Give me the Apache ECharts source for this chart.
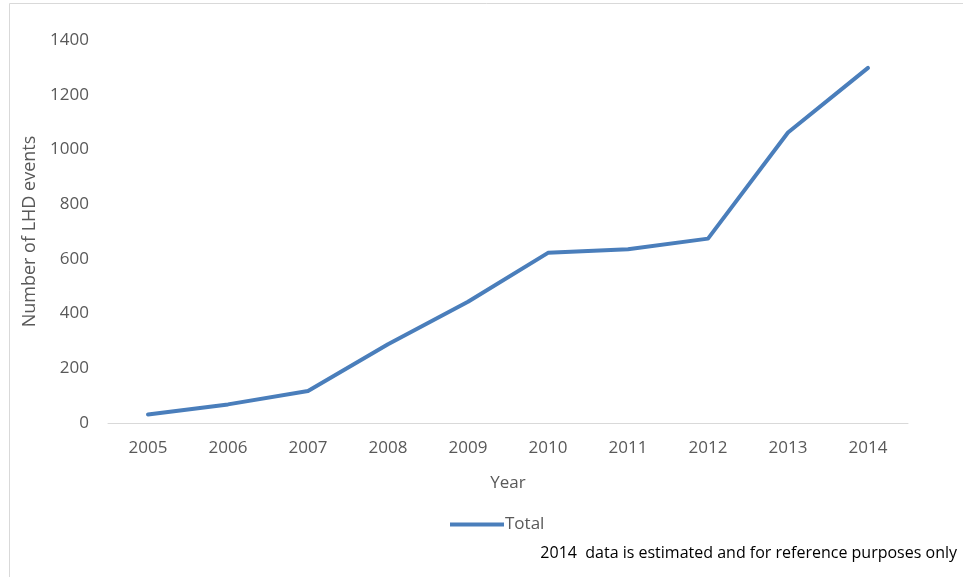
<!DOCTYPE html>
<html>
<head>
<meta charset="utf-8">
<script src="https://cdn.jsdelivr.net/npm/echarts@6/dist/echarts.min.js"></script>
<style>html,body{margin:0;padding:0;background:#fff}#c{width:963px;height:577px}</style>
</head>
<body>
<div id="c"></div>
<script>
const years = ['2005','2006','2007','2008','2009','2010','2011','2012','2013','2014'];
const totals = [31, 68, 117, 288, 443, 622, 635, 674, 1062, 1298];
const yTicks = [0, 200, 400, 600, 800, 1000, 1200, 1400];

const chart = echarts.init(document.getElementById('c'));
const font = '"Open Sans", "Liberation Sans", sans-serif';
chart.setOption({
  animation: false,
  grid: {left: 108, right: 55, top: 40, bottom: 154},
  graphic: [
    {type: 'rect', shape: {x: 9.5, y: 3.5, width: 1000, height: 700}, style: {fill: 'none', stroke: '#d9d9d9', lineWidth: 1}},
    {type: 'text', right: 6, top: 545, style: {text: '2014  data is estimated and for reference purposes only', font: '16px ' + font, fill: '#000'}}
  ],
  legend: {
    data: ['Total'], left: 445, top: 511, itemWidth: 54, itemHeight: 4, itemGap: 4,
    icon: 'rect',
    textStyle: {fontSize: 17, color: '#595959', fontFamily: font, padding: [0, 0, 0, -4]}
  },
  xAxis: {
    type: 'category', data: years, boundaryGap: true,
    name: 'Year', nameLocation: 'middle', nameGap: 52,
    nameTextStyle: {fontSize: 17, color: '#595959', fontFamily: font},
    axisLine: {lineStyle: {color: '#d9d9d9', width: 1}},
    axisTick: {show: false},
    axisLabel: {fontSize: 17, color: '#595959', fontFamily: font, margin: 17}
  },
  yAxis: {
    type: 'value', min: yTicks[0], max: yTicks[yTicks.length - 1], interval: 200,
    name: 'Number of LHD events', nameLocation: 'middle', nameGap: 68, nameRotate: 90,
    nameTextStyle: {fontSize: 18, color: '#595959', fontFamily: font},
    axisLine: {show: false}, axisTick: {show: false},
    splitLine: {show: false},
    axisLabel: {fontSize: 17, color: '#595959', fontFamily: font, margin: 19, formatter: v => String(v)}
  },
  series: [{
    name: 'Total', type: 'line', data: totals,
    showSymbol: false, symbol: 'none',
    lineStyle: {color: '#4a7ebb', width: 4, cap: 'round', join: 'round'},
    itemStyle: {color: '#4a7ebb'}
  }]
});
</script>
</body>
</html>
